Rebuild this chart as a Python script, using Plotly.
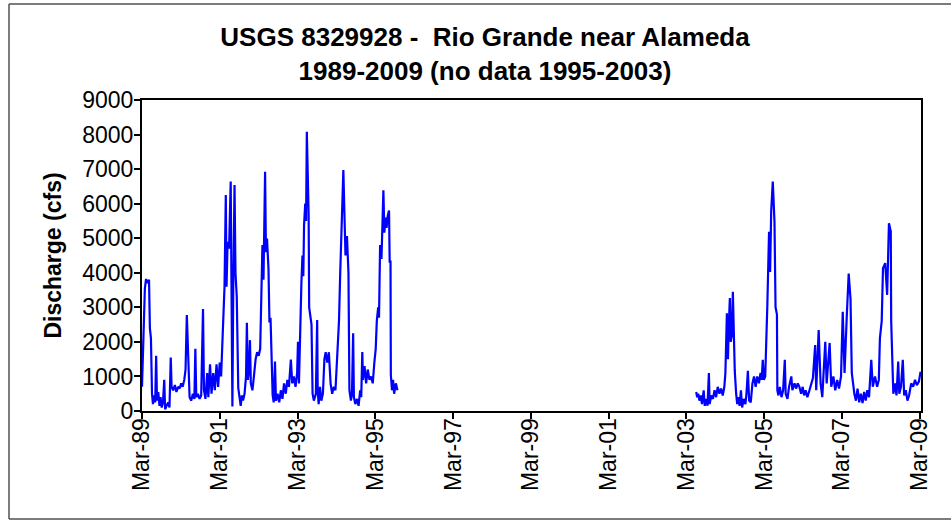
import plotly.graph_objects as go

# ---- Data (daily discharge, cfs) ----
dates_1989_1995 = [
    "1989-03-01", "1989-03-08", "1989-03-18", "1989-03-28", "1989-04-08", "1989-04-22", "1989-05-06", "1989-05-14",
    "1989-05-24", "1989-06-03", "1989-06-12", "1989-06-22", "1989-07-03", "1989-07-12", "1989-07-20", "1989-08-01",
    "1989-08-12", "1989-08-22", "1989-09-02", "1989-09-14", "1989-09-26", "1989-10-04", "1989-10-18", "1989-11-02",
    "1989-11-14", "1989-11-26", "1989-12-04", "1989-12-18", "1990-01-04", "1990-01-18", "1990-02-03", "1990-02-17",
    "1990-03-04", "1990-03-18", "1990-04-02", "1990-04-14", "1990-04-26", "1990-05-03", "1990-05-10", "1990-05-22",
    "1990-06-06", "1990-06-22", "1990-07-06", "1990-07-15", "1990-07-24", "1990-08-08", "1990-08-24", "1990-09-08",
    "1990-09-25", "1990-10-04", "1990-10-18", "1990-11-03", "1990-11-14", "1990-11-30", "1990-12-14", "1990-12-30",
    "1991-01-14", "1991-01-30", "1991-02-14", "1991-03-01", "1991-03-14", "1991-03-28", "1991-04-06", "1991-04-15",
    "1991-04-27", "1991-05-04", "1991-05-14", "1991-05-28", "1991-06-12", "1991-06-20", "1991-06-28", "1991-07-06",
    "1991-07-18", "1991-07-27", "1991-08-08", "1991-08-22", "1991-09-03", "1991-09-14", "1991-09-25", "1991-10-06",
    "1991-10-20", "1991-11-03", "1991-11-11", "1991-11-20", "1991-12-01", "1991-12-10", "1991-12-18", "1992-01-02",
    "1992-01-16", "1992-02-01", "1992-02-15", "1992-03-01", "1992-03-15", "1992-03-28", "1992-04-05", "1992-04-15",
    "1992-04-22", "1992-04-30", "1992-05-08", "1992-05-18", "1992-06-01", "1992-06-10", "1992-06-20", "1992-06-28",
    "1992-07-10", "1992-07-20", "1992-08-01", "1992-08-10", "1992-08-25", "1992-09-10", "1992-09-25", "1992-10-10",
    "1992-10-25", "1992-11-10", "1992-11-25", "1992-12-10", "1992-12-28", "1993-01-10", "1993-01-25", "1993-02-10",
    "1993-02-25", "1993-03-05", "1993-03-14", "1993-04-06", "1993-04-16", "1993-04-24", "1993-05-01", "1993-05-12",
    "1993-05-20", "1993-05-27", "1993-06-05", "1993-06-13", "1993-06-18", "1993-07-10", "1993-07-20", "1993-08-01",
    "1993-08-20", "1993-09-01", "1993-09-06", "1993-09-15", "1993-09-28", "1993-10-10", "1993-10-25", "1993-11-08",
    "1993-11-20", "1993-12-05", "1993-12-20", "1994-01-05", "1994-01-20", "1994-02-05", "1994-02-20", "1994-03-10",
    "1994-03-25", "1994-04-05", "1994-04-18", "1994-05-05", "1994-05-14", "1994-05-25", "1994-06-08", "1994-06-22",
    "1994-07-01", "1994-07-15", "1994-07-25", "1994-08-05", "1994-08-12", "1994-08-25", "1994-09-10", "1994-09-25",
    "1994-10-10", "1994-10-20", "1994-10-30", "1994-11-05", "1994-11-20", "1994-12-05", "1994-12-20", "1995-01-05",
    "1995-01-20", "1995-02-05", "1995-02-20", "1995-03-05", "1995-03-15", "1995-03-28", "1995-04-05", "1995-04-15",
    "1995-04-28", "1995-05-10", "1995-05-16", "1995-05-25", "1995-06-05", "1995-06-15", "1995-06-25", "1995-07-08",
    "1995-07-14", "1995-07-22", "1995-07-25", "1995-08-05", "1995-08-15", "1995-08-25", "1995-09-10", "1995-09-25",
]
flow_1989_1995 = [
    700, 1500, 3000, 3550, 3820, 3700, 3800, 2400,
    2100, 500, 200, 450, 250, 1600, 300, 550,
    150, 400, 100, 250, 900, 50, 150, 250,
    100, 1550, 700, 600, 750, 550, 700, 650,
    800, 700, 900, 1200, 2780, 1970, 1200, 400,
    300, 500, 350, 1800, 400, 500, 350, 450,
    2950, 600, 350, 1100, 400, 1350, 500, 1100,
    600, 1350, 700, 1400, 1000, 2200, 3300, 3600,
    6250, 3600, 4900, 4700, 6640, 3070, 130, 3500,
    6540, 4000, 3300, 670, 400, 150, 450, 300,
    500, 1000, 2550, 900, 1200, 2050, 800, 600,
    1000, 1500, 1700, 1600, 1800, 3850, 4800, 3800,
    5200, 6920, 4600, 4990, 4100, 2560, 2700, 1430,
    460, 250, 1430, 300, 500, 250, 600, 350,
    800, 500, 900, 700, 1490, 800, 1000, 700,
    1100, 2000, 800, 3700, 4500, 3900, 5380, 6000,
    5500, 8080, 6800, 5670, 3000, 2500, 500, 300,
    500, 2630, 600, 200, 700, 300, 500, 1500,
    1700, 1400, 1700, 800, 500, 700, 600, 1900,
    2600, 3940, 5480, 6970, 5840, 4500, 5060, 4000,
    600, 300, 500, 2250, 400, 200, 350, 150,
    600, 400, 1710, 900, 1300, 800, 1200, 900,
    1000, 800, 1400, 1800, 2600, 3000, 2700, 4800,
    4400, 5500, 6390, 5160, 5600, 5300, 5640, 5800,
    4320, 4320, 1040, 600, 900, 500, 800, 600,
]

dates_2003_2009 = [
    "2003-06-01", "2003-06-10", "2003-06-20", "2003-07-01", "2003-07-15", "2003-07-25", "2003-08-10", "2003-08-20",
    "2003-09-05", "2003-09-15", "2003-09-28", "2003-10-05", "2003-10-20", "2003-11-05", "2003-11-20", "2003-12-05",
    "2003-12-20", "2004-01-05", "2004-01-20", "2004-02-05", "2004-02-20", "2004-03-01", "2004-03-15", "2004-03-25",
    "2004-04-02", "2004-04-12", "2004-04-20", "2004-05-01", "2004-05-10", "2004-05-18", "2004-05-28", "2004-06-10",
    "2004-06-20", "2004-07-01", "2004-07-12", "2004-07-25", "2004-08-05", "2004-08-20", "2004-09-05", "2004-09-15",
    "2004-09-28", "2004-10-10", "2004-10-25", "2004-11-10", "2004-11-25", "2004-12-10", "2004-12-25", "2005-01-10",
    "2005-01-25", "2005-02-05", "2005-02-15", "2005-02-25", "2005-03-10", "2005-03-30", "2005-04-15", "2005-04-25",
    "2005-05-05", "2005-05-20", "2005-06-05", "2005-06-15", "2005-06-28", "2005-07-02", "2005-07-12", "2005-07-25",
    "2005-08-10", "2005-08-25", "2005-09-10", "2005-09-18", "2005-10-05", "2005-10-20", "2005-11-10", "2005-11-20",
    "2005-12-10", "2005-12-25", "2006-01-10", "2006-01-25", "2006-02-10", "2006-02-25", "2006-03-10", "2006-03-25",
    "2006-04-10", "2006-04-25", "2006-05-10", "2006-06-01", "2006-06-22", "2006-07-02", "2006-07-25", "2006-08-12",
    "2006-08-28", "2006-09-25", "2006-10-08", "2006-11-05", "2006-11-20", "2006-12-10", "2006-12-28", "2007-01-15",
    "2007-02-01", "2007-02-20", "2007-03-08", "2007-03-25", "2007-04-15", "2007-05-03", "2007-05-20", "2007-06-01",
    "2007-06-25", "2007-07-10", "2007-07-25", "2007-08-10", "2007-08-25", "2007-09-10", "2007-09-25", "2007-10-10",
    "2007-10-25", "2007-11-10", "2007-12-01", "2007-12-15", "2008-01-05", "2008-01-25", "2008-02-10", "2008-02-20",
    "2008-03-08", "2008-03-20", "2008-04-10", "2008-04-28", "2008-05-15", "2008-06-01", "2008-06-05", "2008-06-15",
    "2008-06-25", "2008-07-10", "2008-07-25", "2008-08-10", "2008-08-20", "2008-09-05", "2008-09-22", "2008-10-05",
    "2008-10-20", "2008-11-05", "2008-11-20", "2008-12-10", "2008-12-28", "2009-01-15", "2009-02-01", "2009-02-20",
    "2009-03-08",
]
flow_2003_2009 = [
    550, 400, 500, 300, 450, 200, 600, 150,
    350, 150, 1100, 200, 450, 350, 600, 400,
    700, 500, 650, 450, 700, 1100, 2830, 1500,
    2500, 3270, 2000, 2200, 3450, 2400, 1160, 500,
    200, 400, 150, 600, 100, 350, 200, 500,
    1160, 300, 250, 800, 1000, 700, 1000, 800,
    1100, 900, 1480, 900, 1000, 3070, 5190, 4020,
    5770, 6640, 5480, 3000, 2800, 600, 450, 700,
    400, 600, 1480, 500, 350, 700, 1000, 600,
    800, 650, 800, 700, 500, 700, 450, 600,
    400, 550, 700, 950, 1910, 600, 2340, 800,
    400, 2000, 800, 1970, 700, 1000, 600, 900,
    650, 1000, 2870, 1100, 2750, 3980, 3250, 1100,
    500, 300, 650, 250, 500, 230, 550, 300,
    600, 400, 1480, 700, 1000, 700, 900, 2100,
    2600, 4130, 4280, 3360, 5430, 5200, 2600, 1000,
    500, 800, 450, 1430, 500, 700, 1480, 450,
    600, 300, 450, 800, 700, 900, 750, 850,
    1140,
]

tick_dates = ["1989-03-01", "1991-03-01", "1993-03-01", "1995-03-01", "1997-03-01", "1999-03-01",
              "2001-03-01", "2003-03-01", "2005-03-01", "2007-03-01", "2009-03-01"]
tick_labels = ["Mar-89", "Mar-91", "Mar-93", "Mar-95", "Mar-97", "Mar-99",
               "Mar-01", "Mar-03", "Mar-05", "Mar-07", "Mar-09"]
y_ticks = [0, 1000, 2000, 3000, 4000, 5000, 6000, 7000, 8000, 9000]

# gap (no data 1995-2003) breaks the line
x_all = dates_1989_1995 + ["1999-01-01"] + dates_2003_2009
y_all = flow_1989_1995 + [None] + flow_2003_2009

FONT = "Liberation Sans, Arial, sans-serif"

fig = go.Figure()
fig.add_trace(go.Scatter(
    x=x_all, y=y_all, mode="lines",
    line=dict(color="#0000FF", width=2.2),
    connectgaps=False, showlegend=False,
))

# chart-area frame (left, top, bottom edges; right edge lies outside the picture)
px_l, px_t, px_b = 9, 4, 519
fx0 = (px_l - 142) / 779
fx1 = (1000 - 142) / 779
fy0 = (411 - px_b) / 311
fy1 = (411 - px_t) / 311
frame_style = dict(color="#505050", width=1.5)
frame = [
    dict(type="line", xref="paper", yref="paper", x0=fx0, x1=fx0, y0=fy0, y1=fy1, line=frame_style),
    dict(type="line", xref="paper", yref="paper", x0=fx0, x1=fx1, y0=fy1, y1=fy1, line=frame_style),
    dict(type="line", xref="paper", yref="paper", x0=fx0, x1=fx1, y0=fy0, y1=fy0, line=frame_style),
]

fig.update_layout(
    width=951, height=523, autosize=False,
    margin=dict(l=142, r=30, t=100, b=112),
    paper_bgcolor="white", plot_bgcolor="white",
    font=dict(family=FONT, color="black"),
    title=dict(
        text="USGS 8329928 - \u00a0Rio Grande near Alameda<br>1989-2009 (no data 1995-2003)",
        x=485 / 951, xref="container", xanchor="center",
        y=1 - 46 / 523, yref="container", yanchor="middle",
        font=dict(family=FONT, size=26, color="black", weight="bold"),
    ),
    xaxis=dict(
        type="date",
        range=["1989-03-01", "2009-03-12"],
        tickvals=tick_dates, ticktext=tick_labels,
        tickangle=-90,
        ticks="outside", ticklen=6, tickwidth=1.5, tickcolor="black",
        ticklabelstandoff=-10,
        showline=True, linecolor="black", linewidth=2, mirror=True,
        showgrid=False, zeroline=False,
        tickfont=dict(family=FONT, size=23, color="black"),
    ),
    yaxis=dict(
        range=[0, 9000],
        tickvals=y_ticks, tickformat="d",
        ticks="outside", ticklen=6, tickwidth=1.5, tickcolor="black",
        ticklabelstandoff=-4,
        showline=True, linecolor="black", linewidth=2, mirror=True,
        showgrid=False, zeroline=False,
        tickfont=dict(family=FONT, size=23, color="black"),
        title=dict(text="Discharge (cfs)", standoff=14,
                   font=dict(family=FONT, size=23, color="black", weight="bold")),
    ),
    shapes=frame,
)

fig.write_html("out.html", config={"displayModeBar": False},
               post_script="document.body.style.margin='0px';")
